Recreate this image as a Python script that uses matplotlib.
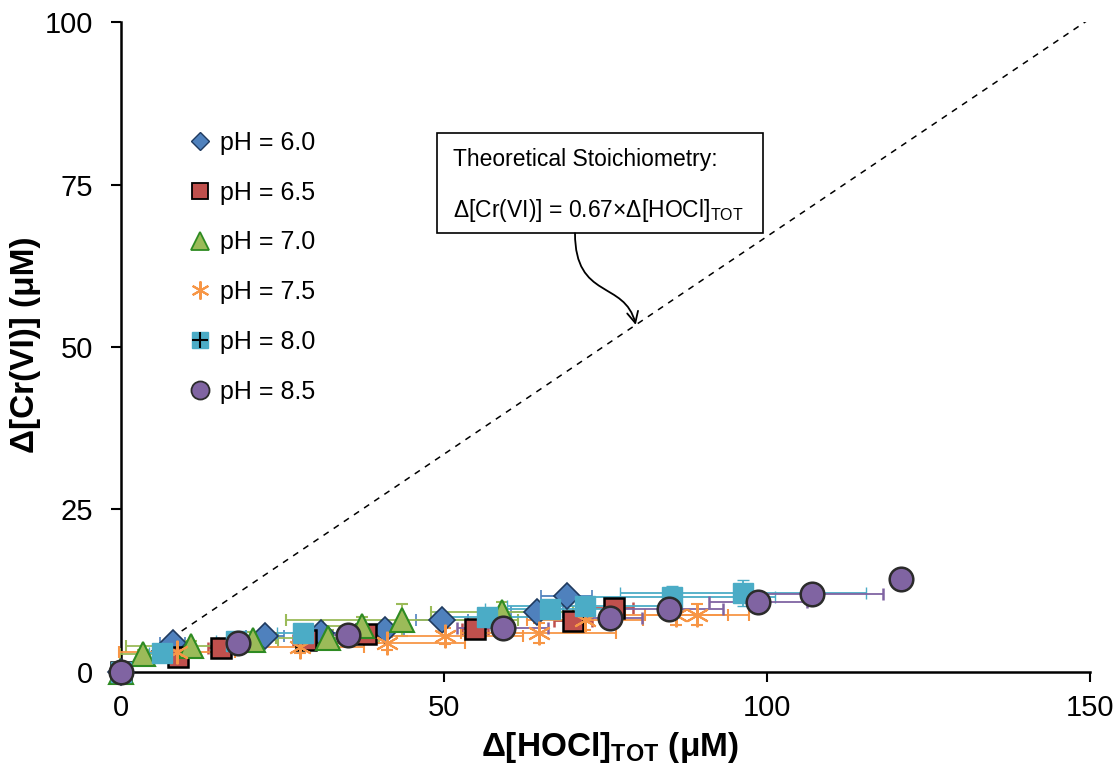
import matplotlib
matplotlib.use('Agg')
import matplotlib.pyplot as plt
from matplotlib.lines import Line2D
from matplotlib.patches import Rectangle, FancyArrowPatch
from matplotlib.path import Path

plt.rcParams['font.family'] = ['Liberation Sans', 'DejaVu Sans']
plt.rcParams['mathtext.fontset'] = 'custom'
plt.rcParams['mathtext.rm'] = 'Liberation Sans'
plt.rcParams['mathtext.bf'] = 'Liberation Sans:bold'

# data (x = delta HOCl_TOT, y = delta Cr(VI), both uM)
ph60_x = [0, 8, 22.3, 31, 40.9, 49.7, 64.4, 69]
ph60_y = [0, 4.5, 5.5, 6.0, 6.5, 8.0, 9.2, 11.7]
ph60_xerr = [0, 2, 3, 3, 3, 4, 4, 4]
ph60_yerr = [0, 0.8, 0.8, 0.8, 0.8, 1.0, 1.0, 1.0]

ph65_x = [0, 8.8, 15.5, 28.6, 38, 54.8, 70, 76.3]
ph65_y = [0, 2.3, 3.7, 4.9, 5.8, 6.6, 7.8, 9.8]
ph65_xerr = [0, 1, 2, 2, 2, 2, 3, 3]
ph65_yerr = [0, 0.5, 0.5, 0.6, 0.6, 0.7, 0.8, 0.8]

ph70_x = [0, 3.4, 10.8, 20.4, 32, 37.3, 43.5, 59]
ph70_y = [0, 2.8, 4.0, 4.9, 5.2, 7.0, 8.0, 9.2]
ph70_xerr = [0, 3.5, 10, 4, 8, 6, 18, 11]
ph70_yerr = [0, 0.6, 0.8, 1.3, 1.2, 1.5, 2.4, 1.5]

ph75_x = [0, 8.7, 27.7, 41.2, 50.2, 64.7, 71.8, 86, 89.2]
ph75_y = [0, 3.1, 3.9, 4.4, 5.5, 6.0, 8.0, 8.8, 8.8]
ph75_xerr = [0, 9, 10, 12, 12, 12, 9, 8, 8]
ph75_yerr = [0, 0.8, 1.0, 1.0, 1.2, 1.6, 1.6, 1.6, 1.6]

ph80_x = [0, 6.3, 17.8, 28.2, 56.6, 66.4, 71.8, 85.3, 96.3]
ph80_y = [0, 2.9, 4.8, 6.0, 8.5, 9.7, 10.2, 11.6, 12.1]
ph80_xerr = [0, 2, 3, 4, 8, 10, 12, 16, 19]
ph80_yerr = [0, 0.6, 0.8, 0.8, 1.2, 1.2, 1.4, 1.6, 2.0]

ph85_x = [0, 18.1, 35.1, 59.1, 75.7, 84.8, 98.6, 107, 120.7]
ph85_y = [0, 4.5, 5.7, 6.8, 8.3, 9.7, 10.8, 12.0, 14.3]
ph85_xerr = [0, 3, 4, 7, 5, 8.4, 7.6, 11, 0]
ph85_yerr = [0, 0.5, 0.5, 0.6, 0.6, 0.8, 0.8, 1.0, 0]

labels = ['pH = 6.0', 'pH = 6.5', 'pH = 7.0', 'pH = 7.5', 'pH = 8.0', 'pH = 8.5']

fig = plt.figure(figsize=(11.19, 7.65), dpi=100)
ax = fig.add_axes([0.108, 0.1216, 0.866, 0.8496])

eb = dict(elinewidth=1.3, capsize=4, capthick=1.3, linestyle='none')


def noclip(c):
    for a in c.get_children():
        a.set_clip_on(False)


# theoretical line
line_x = [0, 150]
ax.plot(line_x, [0.67 * v for v in line_x], color='black', ls=(0, (4, 4)), lw=1.1, zorder=1)

noclip(ax.errorbar(ph60_x, ph60_y, xerr=ph60_xerr, yerr=ph60_yerr, marker='D', ms=13,
                   mfc='#4F81BD', mec='#1F3A5F', mew=1.2, ecolor='#4F81BD', zorder=3, **eb))
noclip(ax.errorbar(ph65_x, ph65_y, xerr=ph65_xerr, yerr=ph65_yerr, marker='s', ms=15,
                   mfc='#C0504D', mec='black', mew=1.8, ecolor='#C0504D', zorder=3, **eb))
noclip(ax.errorbar(ph70_x, ph70_y, xerr=ph70_xerr, yerr=ph70_yerr, marker='^', ms=17,
                   mfc='#9BBB59', mec='#2E8B22', mew=1.5, ecolor='#9BBB59', zorder=3, **eb))
noclip(ax.errorbar(ph75_x, ph75_y, xerr=ph75_xerr, yerr=ph75_yerr, marker=(6, 2, 0), ms=17,
                   mfc='#F79646', mec='#F79646', mew=1.5, ecolor='#F79646', zorder=3, **eb))
noclip(ax.errorbar(ph80_x, ph80_y, xerr=ph80_xerr, yerr=ph80_yerr, marker='s', ms=15,
                   mfc='#4BACC6', mec='#4BACC6', mew=1, ecolor='#4BACC6', zorder=3, **eb))
ax.plot(ph80_x, ph80_y, marker='+', ms=14, mew=1.8, color='#1E3A44', ls='none', zorder=3,
        clip_on=False)
noclip(ax.errorbar(ph85_x, ph85_y, xerr=ph85_xerr, yerr=ph85_yerr, marker='o', ms=17,
                   mfc='#8064A2', mec='#2B2B2B', mew=1.8, ecolor='#8064A2', zorder=3, **eb))

ax.set_xlim(0, 150)
ax.set_ylim(0, 100)
ax.set_xticks([0, 50, 100, 150])
ax.set_yticks([0, 25, 50, 75, 100])
ax.tick_params(labelsize=21, direction='out', length=7, width=1.5)
ax.tick_params(axis='x', pad=9)
ax.tick_params(axis='y', pad=13)
for s in ['top', 'right']:
    ax.spines[s].set_visible(False)
for s in ['left', 'bottom']:
    ax.spines[s].set_linewidth(1.8)

ax.set_xlabel('Δ[HOCl]$_{\\mathbf{TOT}}$ (μM)', fontsize=24, fontweight='bold', va='top')
ax.set_ylabel('Δ[Cr(VI)] (μM)', fontsize=24, fontweight='bold')
ax.xaxis.set_label_coords(0.505, -0.09)
ax.yaxis.set_label_coords(-0.082, 0.503)

# legend
handles = [
    Line2D([], [], marker='D', ms=9, mfc='#4F81BD', mec='#1F3A5F', ls='none'),
    Line2D([], [], marker='s', ms=12, mfc='#C0504D', mec='black', mew=1.3, ls='none'),
    Line2D([], [], marker='^', ms=13, mfc='#9BBB59', mec='#2E8B22', mew=1.3, ls='none'),
    Line2D([], [], marker=(6, 2, 0), ms=13, color='#F79646', mew=1.5, ls='none'),
    (Line2D([], [], marker='s', ms=12, mfc='#4BACC6', mec='#4BACC6', ls='none'),
     Line2D([], [], marker='+', ms=12, mew=1.5, color='black', ls='none')),
    Line2D([], [], marker='o', ms=13, mfc='#8064A2', mec='#2B2B2B', mew=1.3, ls='none'),
]
ax.legend(handles, labels, loc='upper left', bbox_to_anchor=(0.058, 0.848), frameon=False,
          fontsize=18, handlelength=1.0, handletextpad=0.3, labelspacing=1.03,
          borderaxespad=0)

# annotation box
ax.add_patch(Rectangle((48.9, 67.5), 50.5, 15.4, fc='white', ec='black', lw=1.2,
                       zorder=4, clip_on=False))
ax.text(51.4, 78.9, 'Theoretical Stoichiometry:', fontsize=16.5, va='center', ha='left',
        zorder=5)
ax.text(51.4, 71.0, 'Δ[Cr(VI)] = 0.67×Δ[HOCl]$_{\\mathregular{TOT}}$', fontsize=16.5,
        va='center', ha='left', zorder=5)
arrow_path = Path([(70.3, 67.5), (70.3, 57.2), (78.0, 60.3), (79.7, 53.4)],
                  [Path.MOVETO, Path.CURVE4, Path.CURVE4, Path.CURVE4])
ax.add_patch(FancyArrowPatch(path=arrow_path, arrowstyle='->', mutation_scale=20, lw=1.3,
                             color='black', zorder=4))

fig.savefig('out.png', dpi=100)
